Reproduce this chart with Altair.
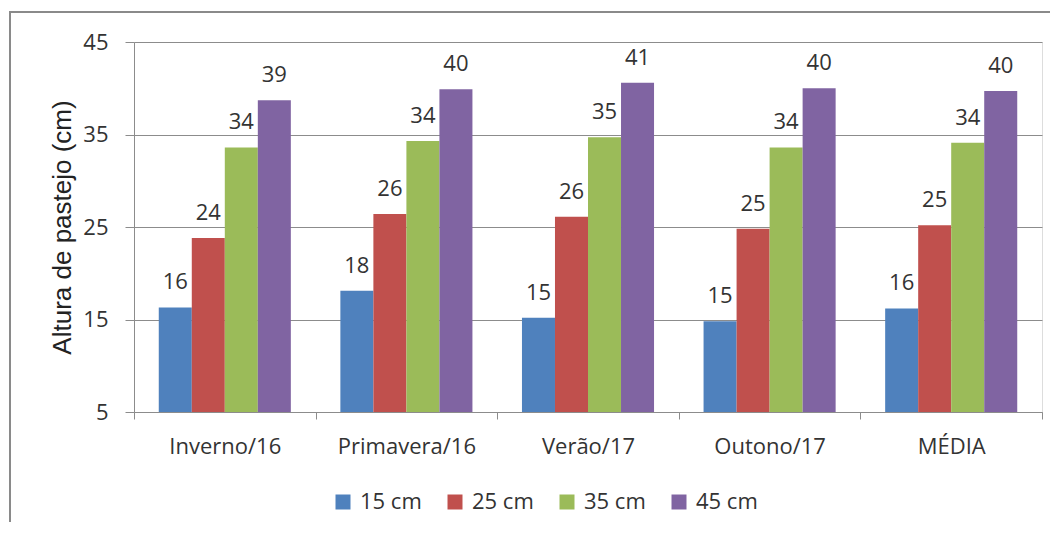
import altair as alt
import pandas as pd

categories = ["Inverno/16", "Primavera/16", "Verão/17", "Outono/17", "MÉDIA"]
series = ["15 cm", "25 cm", "35 cm", "45 cm"]
v15 = [16.3, 18.1, 15.2, 14.8, 16.2]
v25 = [23.8, 26.4, 26.1, 24.8, 25.2]
v35 = [33.6, 34.3, 34.7, 33.6, 34.1]
v45 = [38.7, 39.9, 40.6, 40.0, 39.7]
y_ticks = [5, 15, 25, 35, 45]
colors = ["#4F81BD", "#C0504D", "#9BBB59", "#8064A2"]

rows = []
for s, vals in zip(series, [v15, v25, v35, v45]):
    for c, v in zip(categories, vals):
        rows.append({"cat": c, "serie": s, "val": v})
df = pd.DataFrame(rows)

FONT = "Open Sans"
TXT = "#333333"
GRID = "#8c8c8c"

x_enc = alt.X("cat:N", sort=categories,
              scale=alt.Scale(paddingInner=0, paddingOuter=0),
              axis=alt.Axis(title=None, labelAngle=0, tickBand="extent",
                            ticks=True, tickSize=7, tickColor=GRID,
                            domainColor=GRID, labelFont=FONT, labelFontSize=22,
                            labelColor=TXT, labelPadding=17))
xo_enc = alt.XOffset("serie:N", sort=series,
                     scale=alt.Scale(paddingInner=0, paddingOuter=0.75))
y_enc = alt.Y("val:Q",
              scale=alt.Scale(domain=[5, 45], nice=False, zero=False),
              axis=alt.Axis(values=y_ticks, grid=True, gridColor=GRID,
                            domainColor=GRID, tickColor=GRID, tickSize=9,
                            labelFont=FONT, labelFontSize=22, labelColor=TXT,
                            labelPadding=17,
                            title="Altura de pastejo (cm)",
                            titleFont="Liberation Sans", titleFontSize=26,
                            titleFontWeight="normal", titleColor="#222222",
                            titleX=-72, titleY=185, titleAngle=-90,
                            titleAlign="center", titleBaseline="middle"))

base = alt.Chart(df)

bars = base.mark_bar().encode(
    x=x_enc, xOffset=xo_enc, y=y_enc, y2=alt.datum(5),
    color=alt.Color("serie:N", sort=series,
                    scale=alt.Scale(domain=series, range=colors),
                    legend=alt.Legend(title=None, orient="none",
                                      legendX=198, legendY=449,
                                      direction="horizontal", columns=4,
                                      symbolType="square", symbolSize=225,
                                      symbolStrokeWidth=0,
                                      labelFont=FONT, labelFontSize=22,
                                      labelColor=TXT, labelOffset=6,
                                      labelLimit=300,
                                      columnPadding=22, padding=0)),
)

labels = base.mark_text(font=FONT, fontSize=22, color=TXT,
                        baseline="alphabetic", dy=-18).encode(
    x=alt.X("cat:N", sort=categories),
    xOffset=alt.XOffset("serie:N", sort=series),
    y="val:Q",
    text=alt.Text("val:Q", format=".0f"),
)

frame = alt.Chart(pd.DataFrame({"a": [0]})).mark_rect(
    filled=False, stroke="#8a8a8a", strokeWidth=2, clip=False
).encode(x=alt.value(-124), x2=alt.value(1000),
         y=alt.value(-30), y2=alt.value(600))

chart = alt.layer(frame, bars, labels).properties(
    width=908, height=370,
    autosize=alt.AutoSizeParams(type="none"),
    padding={"left": 126, "top": 34, "right": 8, "bottom": 110},
).configure_view(stroke=None).configure(background="white")

chart.save("out.html", embed_options={"renderer": "svg", "actions": False})
